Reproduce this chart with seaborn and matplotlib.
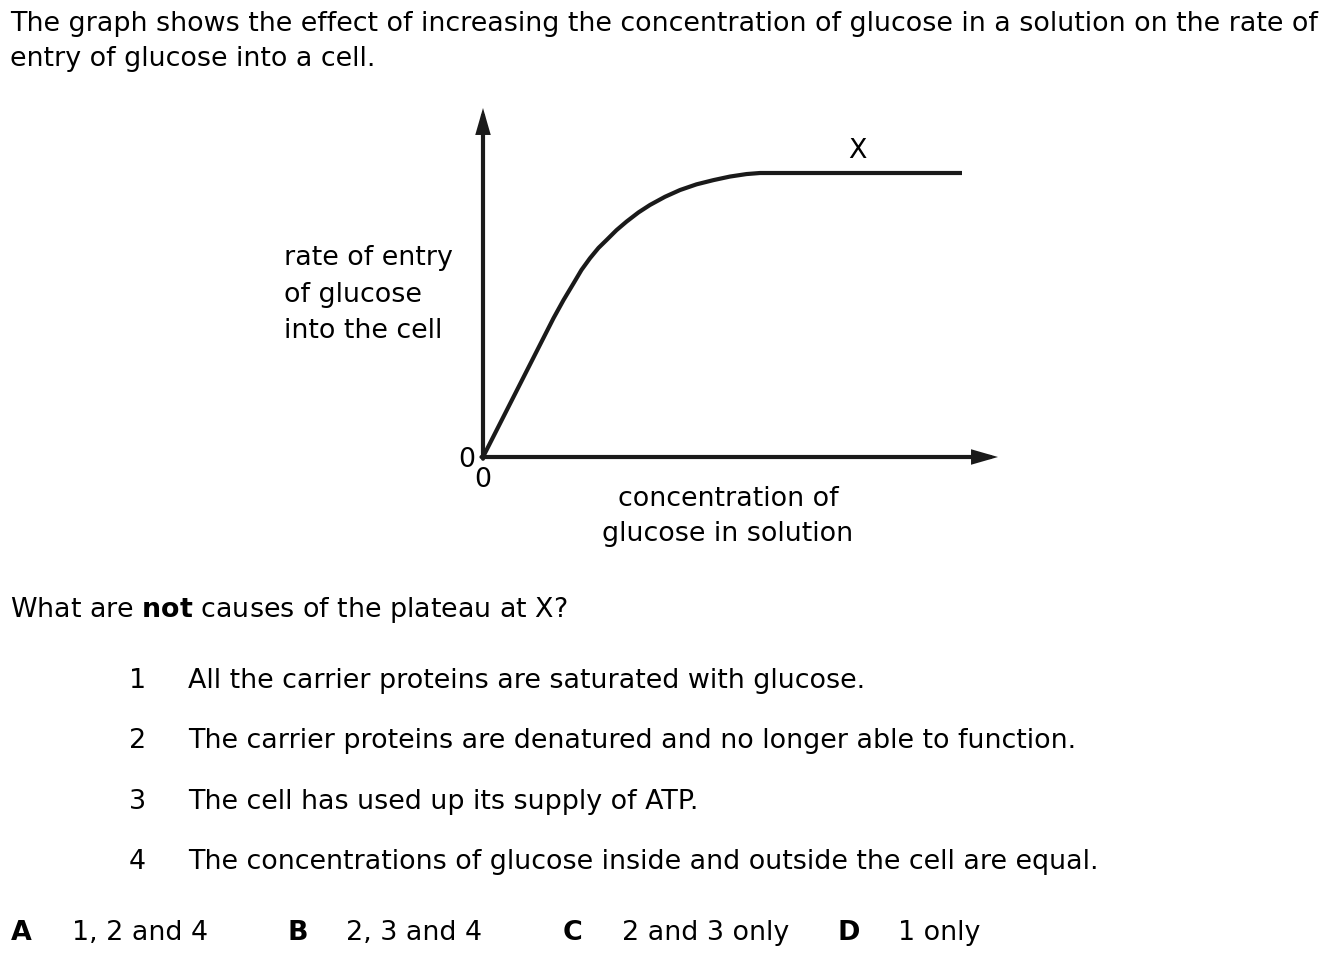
import matplotlib
matplotlib.use("Agg")
import matplotlib.pyplot as plt
import seaborn as sns
import pandas as pd

# ---- data ----
conc = [0.0, 1.41, 1.61, 1.81, 1.97, 2.14, 2.31, 2.47, 2.67, 2.87, 3.11, 3.34,
        3.64, 3.94, 4.27, 4.61, 4.94, 5.27, 5.54, 5.81, 9.58]
rate = [0.0, 3.91, 4.42, 4.89, 5.27, 5.60, 5.89, 6.11, 6.39, 6.63, 6.89, 7.10,
        7.33, 7.52, 7.68, 7.80, 7.90, 7.97, 8.00, 8.00, 8.00]
x_ticks = [0]
y_ticks = [0]
tick_labels = ["0"]

intro_lines = [
    "The graph shows the effect of increasing the concentration of glucose in a solution on the rate of",
    "entry of glucose into a cell.",
]
ylabel_lines = ["rate of entry", "of glucose", "into the cell"]
xlabel_lines = ["concentration of", "glucose in solution"]
plateau_label = "X"
question = "What are $\\mathbf{not}$ causes of the plateau at X?"
item_numbers = ["1", "2", "3", "4"]
item_texts = [
    "All the carrier proteins are saturated with glucose.",
    "The carrier proteins are denatured and no longer able to function.",
    "The cell has used up its supply of ATP.",
    "The concentrations of glucose inside and outside the cell are equal.",
]
option_letters = ["A", "B", "C", "D"]
option_texts = ["1, 2 and 4", "2, 3 and 4", "2 and 3 only", "1 only"]

df = pd.DataFrame({"conc": conc, "rate": rate})

FAM = "DejaVu Sans"
sns.set_style("white")
plt.rcParams["font.family"] = [FAM]
plt.rcParams["mathtext.fontset"] = "custom"
plt.rcParams["mathtext.rm"] = FAM
plt.rcParams["mathtext.bf"] = FAM + ":bold"

W, H = 1340, 957
fig = plt.figure(figsize=(W / 100, H / 100), dpi=100)
fig.patch.set_facecolor("white")

INK = "#1a1a1a"
TXT = "black"
FS = 19.4


def fx(px):
    return px / W


def fy(py):
    return 1 - py / H


# axes: origin at (483, 457)
x0, y0, x1, y1 = 483, 457, 998, 108
ax = fig.add_axes([fx(x0), fy(y0), (x1 - x0) / W, (y0 - y1) / H])
ax.set_xlim(0, (x1 - x0) / 50.0)
ax.set_ylim(0, (y0 - y1) / 35.5)
ax.patch.set_alpha(0)

sns.lineplot(data=df, x="conc", y="rate", sort=False, ax=ax, color=INK,
             linewidth=3.0, solid_capstyle="butt", solid_joinstyle="round",
             clip_on=False)

for s in ax.spines.values():
    s.set_visible(False)

arrow = dict(arrowstyle="-|>,head_length=1.25,head_width=0.36", lw=3.0,
             color=INK, shrinkA=0, shrinkB=0, mutation_scale=10,
             joinstyle="miter")
ax.annotate("", xy=(1, 0), xytext=(-0.003, 0), xycoords="axes fraction",
            arrowprops=arrow, annotation_clip=False)
ax.annotate("", xy=(0, 1), xytext=(0, -0.005), xycoords="axes fraction",
            arrowprops=arrow, annotation_clip=False)

ax.set_xticks(x_ticks)
ax.set_xticklabels(tick_labels)
ax.set_yticks(y_ticks)
ax.set_yticklabels(tick_labels)
ax.tick_params(axis="both", length=0, labelsize=FS, colors=TXT)
ax.tick_params(axis="x", pad=7)
ax.tick_params(axis="y", pad=5.5)
ax.set_xlabel("")
ax.set_ylabel("")

# plateau label
fig.text(fx(857), fy(158), plateau_label, fontsize=FS, color=TXT,
         ha="center", va="baseline")

# intro text
for i, line in enumerate(intro_lines):
    fig.text(fx(10), fy(31 + 35 * i), line, fontsize=FS, color=TXT,
             ha="left", va="baseline")

# y label lines
for i, line in enumerate(ylabel_lines):
    fig.text(fx(284), fy(265 + 36.5 * i), line, fontsize=FS, color=TXT,
             ha="left", va="baseline")

# x label lines
for i, line in enumerate(xlabel_lines):
    fig.text(fx(728), fy(506 + 35 * i), line, fontsize=FS, color=TXT,
             ha="center", va="baseline")

# question
fig.text(fx(10), fy(617), question, fontsize=FS, color=TXT,
         ha="left", va="baseline")

# statements
for i, (n, t) in enumerate(zip(item_numbers, item_texts)):
    yb = 688 + 60.3 * i
    fig.text(fx(129), fy(yb), n, fontsize=FS, color=TXT, ha="left", va="baseline")
    fig.text(fx(188), fy(yb), t, fontsize=FS, color=TXT, ha="left", va="baseline")

# options
letter_x = [11, 287, 563, 838]
text_x = [72, 346, 622, 898]
for L, t, lx, tx in zip(option_letters, option_texts, letter_x, text_x):
    fig.text(fx(lx), fy(940), L, fontsize=FS, fontweight="bold", color=TXT,
             ha="left", va="baseline")
    fig.text(fx(tx), fy(940), t, fontsize=FS, color=TXT, ha="left", va="baseline")

fig.savefig("out.png", dpi=100, facecolor="white")
